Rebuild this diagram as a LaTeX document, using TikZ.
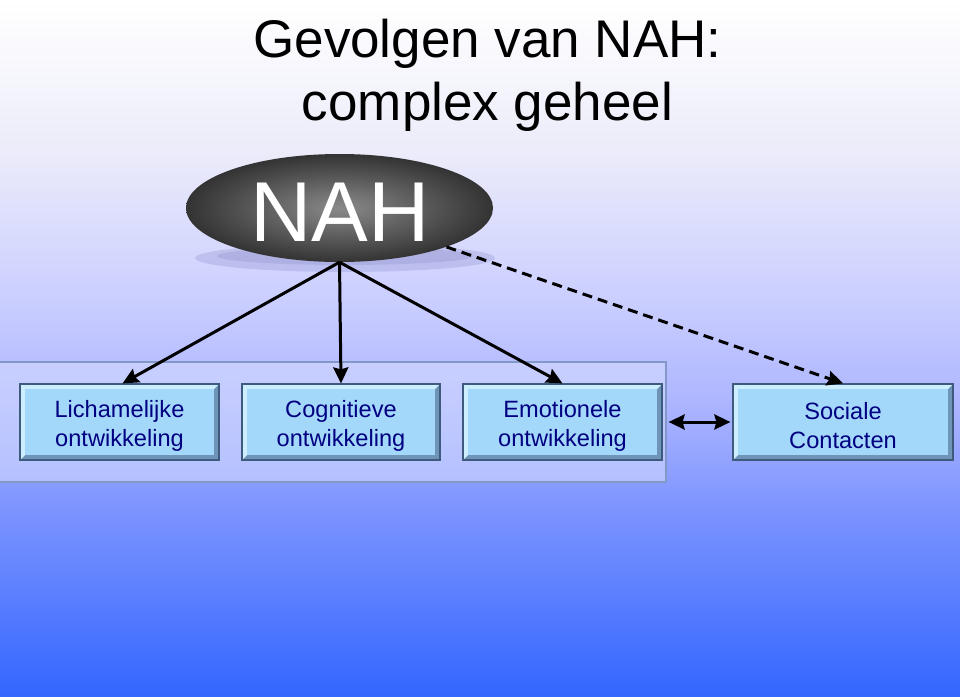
\documentclass[tikz,border=0pt]{standalone}
\usepackage{fontspec}
\setmainfont{Liberation Sans}
\usetikzlibrary{shapes.geometric,arrows.meta}
\definecolor{bgA}{HTML}{FFFFFF}
\definecolor{bgB}{HTML}{ECECFA}
\definecolor{bgC}{HTML}{CACEFF}
\definecolor{bgD}{HTML}{AEB6FF}
\definecolor{bgE}{HTML}{8096FF}
\definecolor{bgF}{HTML}{3366FF}
\definecolor{nahin}{HTML}{8A8A8A}
\definecolor{nahout}{HTML}{333333}
\definecolor{boxfill}{HTML}{A4D8FA}
\definecolor{bevlight}{HTML}{CDEEFF}
\definecolor{bevdark}{HTML}{6E94B8}
\definecolor{boxborder}{HTML}{3E5A7C}
\definecolor{navytext}{HTML}{000080}
\definecolor{contfill}{HTML}{D2DAFF}
\definecolor{contborder}{HTML}{8298C8}
\tikzset{
  devbox/.style={rectangle, minimum height=76pt, inner sep=0pt,
    fill=bevdark, draw=boxborder, line width=1.2pt,
    path picture={
      \fill[bevlight] (path picture bounding box.north west)
        -- (path picture bounding box.north east)
        -- ([xshift=-5pt,yshift=-5pt]path picture bounding box.north east)
        -- ([xshift=5pt,yshift=5pt]path picture bounding box.south west)
        -- (path picture bounding box.south west) -- cycle;
      \fill[boxfill] ([xshift=5pt,yshift=-5pt]path picture bounding box.north west)
        rectangle ([xshift=-5pt,yshift=5pt]path picture bounding box.south east);
    }},
  boxtext/.style={text=navytext, align=center, inner sep=0pt, yshift=-4pt,
    font=\fontsize{23.6}{29}\selectfont},
  nahnode/.style={ellipse, minimum width=307pt, minimum height=108pt, inner sep=0pt,
    inner color=nahin, outer color=nahout},
  arr/.style={line width=3pt, -{Stealth[length=16pt,width=15pt,inset=2pt]}},
  dasharr/.style={arr, dash pattern=on 10pt off 6pt},
  titletext/.style={font=\fontsize{53}{63}\selectfont, align=center}
}
\begin{document}
\begin{tikzpicture}[x=1pt,y=-1pt]
\useasboundingbox (0,0) rectangle (960,696);
% background
\fill[top color=bgA,bottom color=bgB] (0,0) rectangle (960,150.5);
\fill[top color=bgB,bottom color=bgC] (0,150) rectangle (960,300.5);
\fill[top color=bgC,bottom color=bgD] (0,300) rectangle (960,400.5);
\fill[top color=bgD,bottom color=bgE] (0,400) rectangle (960,500.5);
\fill[top color=bgE,bottom color=bgF] (0,500) rectangle (960,696);
% title
\node[titletext, anchor=base] (t1) at (487.5,57) {Gevolgen van NAH:};
\node[titletext, anchor=base] (t2) at (487.5,120) {complex geheel};
% container
\draw[fill=contfill, fill opacity=0.6, draw=contborder, line width=2pt] (-2,362) rectangle (666,482);
% NAH ellipse with shadow
\fill[black!60!blue, opacity=0.10] (345,258) ellipse (150 and 14);
\fill[black!60!blue, opacity=0.08] (345,256) ellipse (128 and 9);
\node[nahnode] (nah) at (339.5,208) {};
\node[text=white, font=\fontsize{85}{85}\selectfont, anchor=base] (nahlabel) at (340,241) {NAH};
% boxes
\node[devbox, minimum width=199pt, label={[boxtext]center:Lichamelijke\\ontwikkeling}] (lich) at (119.5,422) {};
\node[devbox, minimum width=198pt, label={[boxtext]center:Cognitieve\\ontwikkeling}] (cog) at (341,422) {};
\node[devbox, minimum width=199pt, label={[boxtext]center:Emotionele\\ontwikkeling}] (emo) at (562.5,422) {};
\node[devbox, minimum width=220pt, label={[boxtext]center:Sociale\\Contacten}] (soc) at (843,422) {};
% connectors
\draw[arr] (nah.south) -- ([xshift=3pt]lich.north);
\draw[arr] (nah.south) -- (cog.north);
\draw[arr] (nah.south) -- (emo.north);
\draw[dasharr] (nah.-20) -- (soc.north);
\draw[line width=3pt, {Stealth[length=16pt,width=15pt,inset=2pt]}-{Stealth[length=16pt,width=15pt,inset=2pt]}, shorten <=6pt, shorten >=2pt] (emo.east) -- (soc.west);
\end{tikzpicture}
\end{document}
